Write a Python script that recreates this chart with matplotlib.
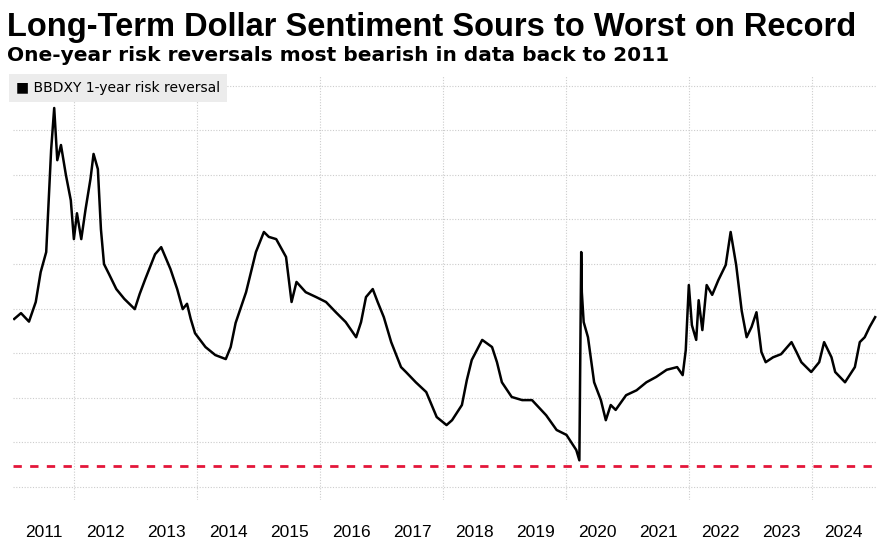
import numpy as np
import matplotlib.pyplot as plt

# traced points (year, level); grid units, 0 = bottom gridline
years = [2011.02, 2011.13, 2011.26, 2011.37, 2011.45, 2011.54, 2011.62, 2011.67, 2011.72, 2011.78,
         2011.86, 2011.94, 2011.99, 2012.04, 2012.11, 2012.18, 2012.26, 2012.31, 2012.38, 2012.43,
         2012.48, 2012.56, 2012.68, 2012.81, 2012.98, 2013.06, 2013.15, 2013.31, 2013.41, 2013.56,
         2013.67, 2013.76, 2013.83, 2013.89, 2013.96, 2014.13, 2014.29, 2014.46, 2014.54, 2014.62,
         2014.79, 2014.95, 2015.08, 2015.16, 2015.28, 2015.44, 2015.53, 2015.61, 2015.76, 2015.93,
         2016.09, 2016.25, 2016.41, 2016.58, 2016.66, 2016.74, 2016.85, 2016.93, 2017.03, 2017.15,
         2017.31, 2017.39, 2017.55, 2017.72, 2017.89, 2018.05, 2018.14, 2018.30, 2018.38, 2018.46,
         2018.63, 2018.79, 2018.87, 2018.95, 2019.11, 2019.28, 2019.44, 2019.67, 2019.84, 2020.00,
         2020.16, 2020.21, 2020.24, 2020.25, 2020.28, 2020.35, 2020.45, 2020.56, 2020.64, 2020.72,
         2020.80, 2020.97, 2021.14, 2021.30, 2021.46, 2021.63, 2021.80, 2021.89, 2021.94, 2021.99,
         2022.04, 2022.11, 2022.15, 2022.21, 2022.28, 2022.37, 2022.47, 2022.59, 2022.67, 2022.76,
         2022.85, 2022.93, 2023.01, 2023.09, 2023.17, 2023.24, 2023.36, 2023.49, 2023.66, 2023.74,
         2023.82, 2023.98, 2024.11, 2024.19, 2024.31, 2024.37, 2024.53, 2024.69, 2024.77, 2024.85,
         2024.93, 2025.02]
levels = [3.77, 3.90, 3.71, 4.15, 4.82, 5.27, 7.56, 8.50, 7.33, 7.67, 7.00, 6.43, 5.56, 6.14, 5.56,
          6.23, 6.91, 7.47, 7.13, 5.78, 5.00, 4.78, 4.44, 4.22, 3.99, 4.33, 4.66, 5.22, 5.38, 4.89,
          4.44, 3.99, 4.11, 3.77, 3.45, 3.14, 2.96, 2.87, 3.14, 3.68, 4.37, 5.27, 5.72, 5.61, 5.56,
          5.16, 4.15, 4.60, 4.37, 4.26, 4.15, 3.92, 3.70, 3.36, 3.70, 4.26, 4.44, 4.15, 3.81, 3.25,
          2.69, 2.58, 2.35, 2.13, 1.57, 1.39, 1.50, 1.84, 2.40, 2.85, 3.30, 3.14, 2.80, 2.35, 2.02,
          1.95, 1.95, 1.61, 1.28, 1.17, 0.83, 0.60, 5.27, 4.37, 3.70, 3.36, 2.35, 1.95, 1.50, 1.84,
          1.73, 2.06, 2.17, 2.35, 2.47, 2.63, 2.69, 2.51, 3.07, 4.53, 3.63, 3.30, 4.19, 3.52, 4.53,
          4.31, 4.64, 4.98, 5.72, 4.98, 3.95, 3.36, 3.59, 3.92, 3.03, 2.80, 2.91, 2.98, 3.25, 3.03,
          2.80, 2.58, 2.80, 3.25, 2.91, 2.58, 2.35, 2.69, 3.25, 3.36, 3.59, 3.81]
record_low = 0.47
year_labels = [str(y) for y in range(2011, 2025)]
legend_text = "BBDXY 1-year risk reversal"

plt.rcParams['font.family'] = ['Liberation Sans', 'DejaVu Sans']
fig = plt.figure(figsize=(8.77, 5.45), dpi=100)
ax = fig.add_axes([13 / 877, 45 / 545, 864 / 877, 425 / 545])

ax.plot(years, levels, color='black', lw=1.8)
ax.axhline(record_low, color='#e3163a', lw=2, ls=(0, (3, 3)))

ax.set_xlim(2011.0, 2025.05)
ax.set_ylim(-0.29, 9.24)
ax.set_yticks(np.arange(0, 10))
ax.set_yticklabels([])
ax.set_xticks(np.arange(2012, 2026, 2))
ax.set_xticklabels([])
ax.set_xticks(np.arange(2011, 2025) + 0.5, minor=True)
ax.set_xticklabels(year_labels, minor=True, fontsize=12.5)
ax.tick_params(which='both', length=0, pad=18)
ax.grid(True, which='major', color='#cccccc', ls=(0, (1, 1.5)), lw=0.8)
for s in ax.spines.values():
    s.set_visible(False)

ax.text(0.003, 0.985, "\u25a0 " + legend_text, transform=ax.transAxes, fontsize=10,
        va='top', ha='left', family=['DejaVu Sans'],
        bbox=dict(facecolor='#ececec', edgecolor='none', pad=5))

fig.text(0.008, 0.978, "Long-Term Dollar Sentiment Sours to Worst on Record",
         fontsize=23.5, fontweight='bold', va='top')
fig.text(0.008, 0.915, "One-year risk reversals most bearish in data back to 2011",
         fontsize=14.5, fontweight='bold', va='top', family=['DejaVu Sans'])

fig.savefig('out.png', dpi=100)
